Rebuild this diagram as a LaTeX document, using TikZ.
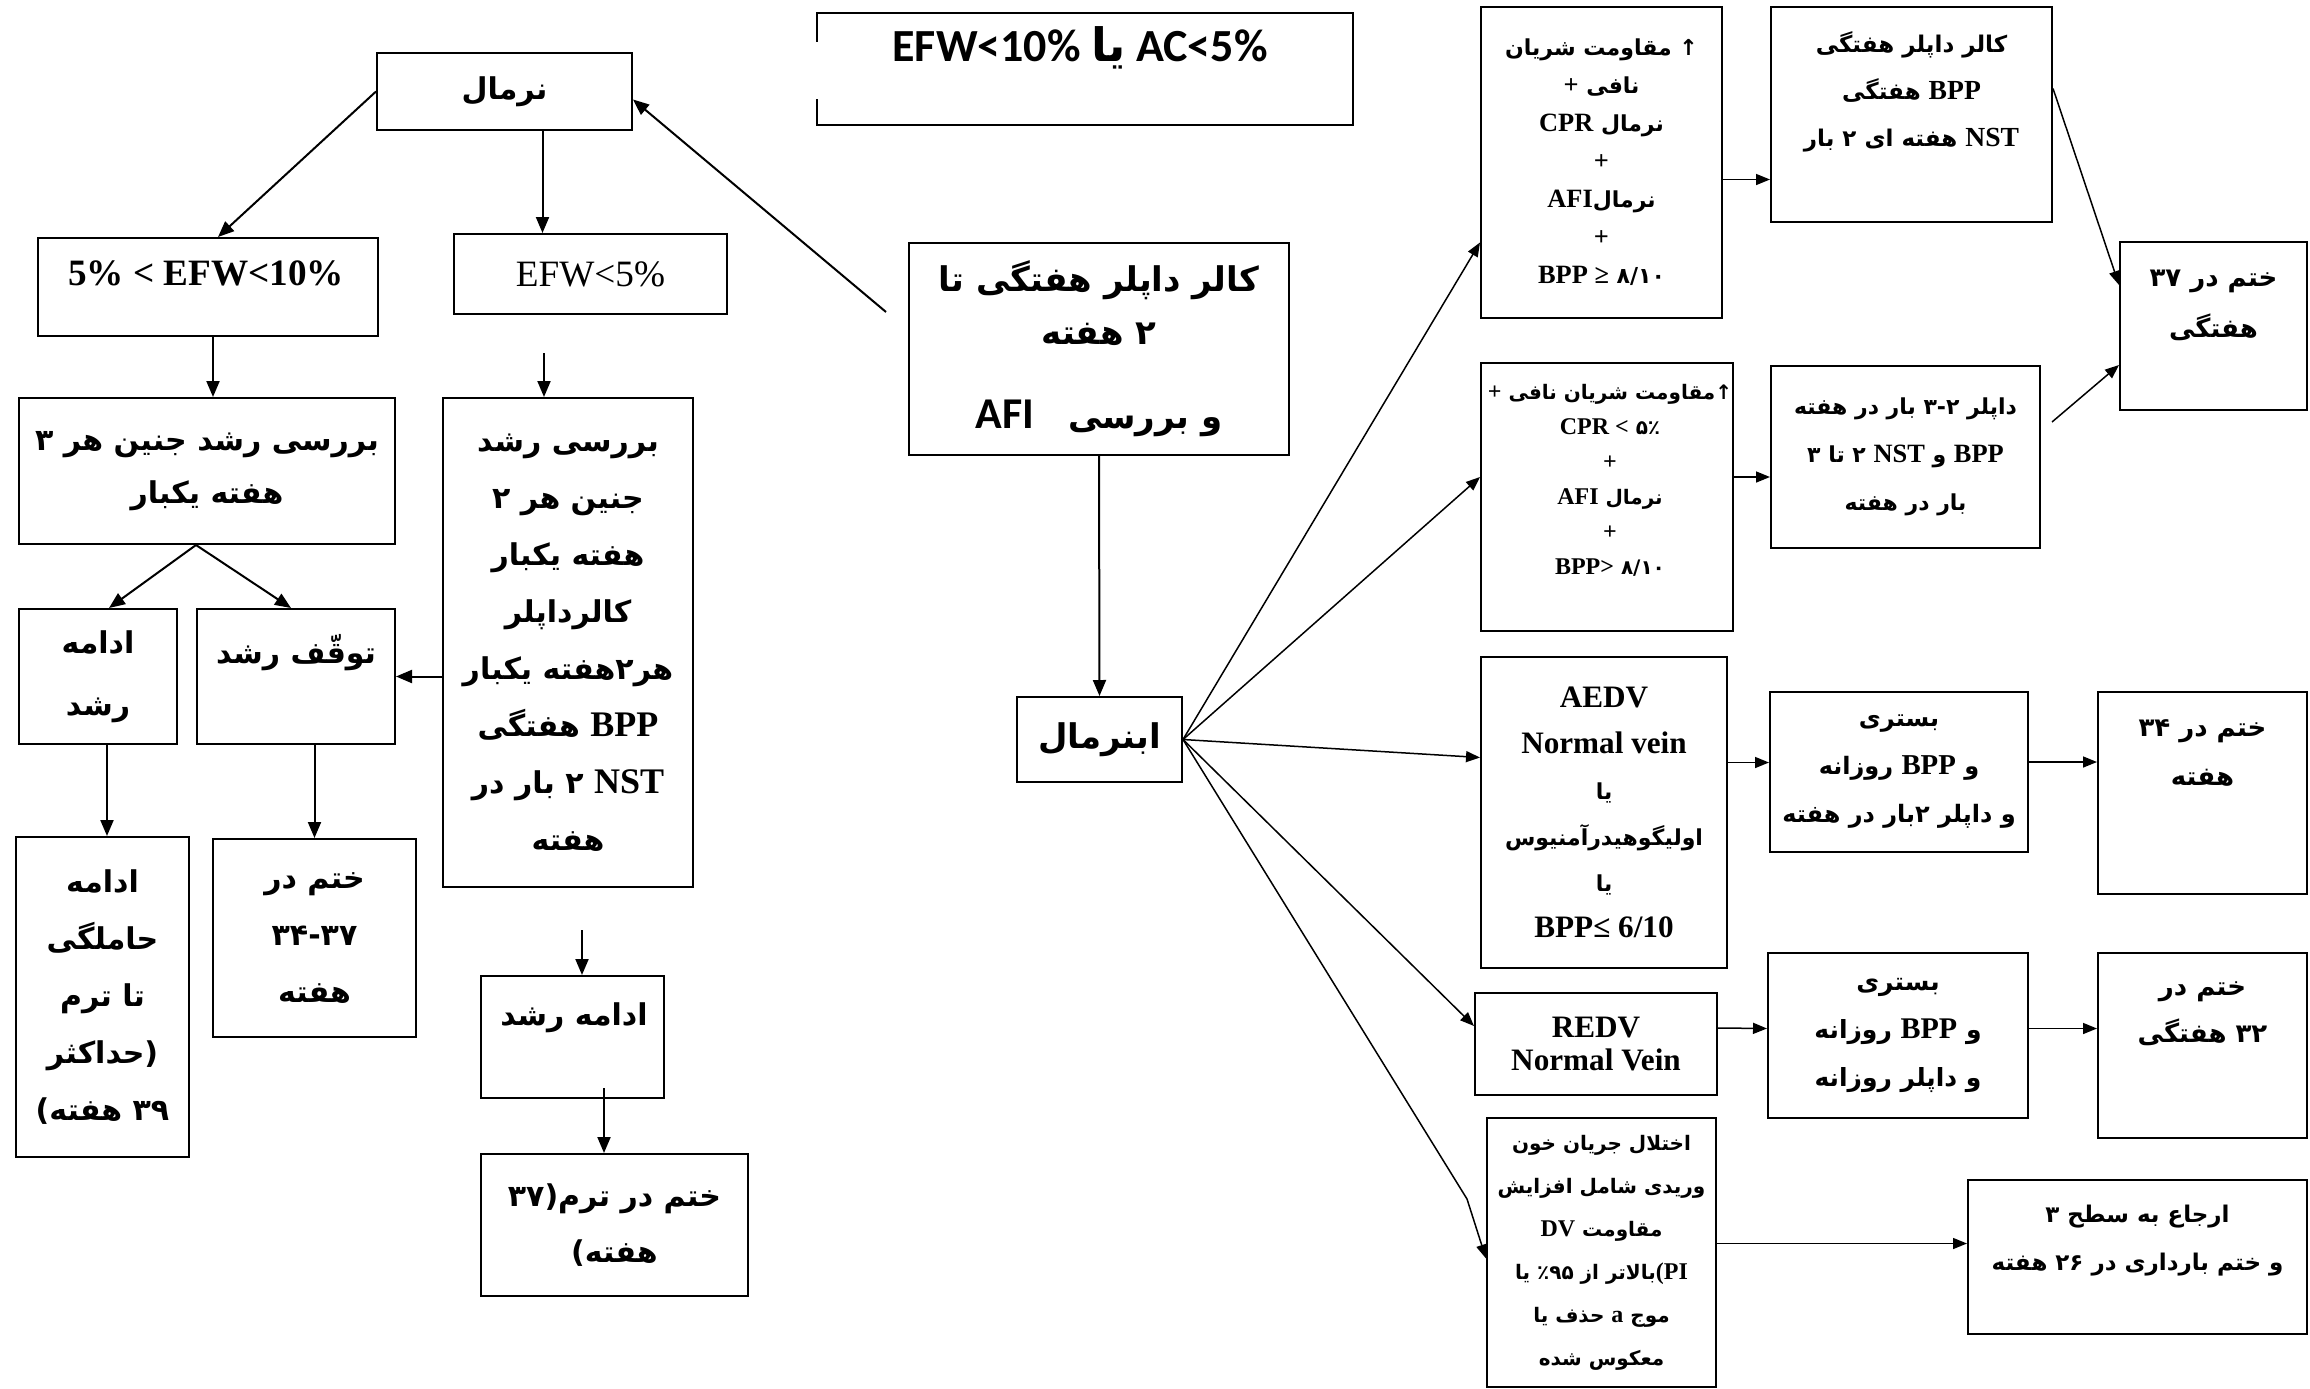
\documentclass[tikz,border=0pt]{standalone}
\usepackage{fontspec}
\setmainfont[Scale=1.2]{Liberation Serif}
\newfontfamily\fa[Script=Arabic]{DejaVu Sans}
\newfontfamily\calib{Carlito}
\TeXXeTstate=1
\usetikzlibrary{arrows.meta}
\newcommand{\rtl}[1]{\beginR #1\endR}
\newcommand{\ltn}[1]{{\rmfamily #1}}
\tikzset{
	box/.style={draw,line width=2pt,inner sep=0pt,align=center},
	txt/.style={inner sep=0pt,align=center},
	fs/.style 2 args={font=\fa\bfseries\fontsize{#1}{#2}\selectfont},
	arr/.style={line width=2pt,-{Triangle[length=16pt,width=13pt]}},
	rarr/.style={line width=1.5pt,-{Triangle[length=14pt,width=11pt]}}
}
\begin{document}
\begin{tikzpicture}[x=1pt,y=-1pt]
\useasboundingbox (0,0) rectangle (2310,1389);

% left branch
\node[box,fs={30}{57},minimum width=255pt,minimum height=77pt] (normal) at (504.5,91.5) {\rtl{نرمال}};
\node[box,minimum width=340pt,minimum height=98pt] (efwmid) at (208,287) {};
\node[txt,font=\bfseries\fontsize{31}{40}\selectfont] (efwmid-t) at (206,273) {5\% < EFW<10\%};
\node[box,font=\fontsize{31}{40}\selectfont,minimum width=273pt,minimum height=80pt] (efwlow) at (590.5,274) {EFW<5\%};
\node[box,fs={30}{53},minimum width=376pt,minimum height=146pt] (check3) at (207,471) {\rtl{بررسی رشد جنین هر ۳}\\\rtl{هفته یکبار}};
\node[box,fs={30}{57},minimum width=250pt,minimum height=489pt] (check2) at (568,642.5) {\rtl{بررسی رشد}\\\rtl{جنین هر ۲}\\\rtl{هفته یکبار}\\\rtl{کالرداپلر}\\\rtl{هر۲هفته یکبار}\\\rtl{\ltn{BPP} هفتگی}\\\rtl{\ltn{NST} ۲ بار در}\\\rtl{هفته}};
\node[box,fs={30}{62},minimum width=158pt,minimum height=135pt] (contg) at (98,676.5) {\rtl{ادامه}\\\rtl{رشد}};
\node[box,minimum width=198pt,minimum height=135pt] (stop) at (296,676.5) {};
\node[txt,fs={30}{57}] (stop-t) at (296,653) {\rtl{توقّف رشد}};
\node[box,fs={30}{57},minimum width=173pt,minimum height=320pt] (preg) at (102.5,997) {\rtl{ادامه}\\\rtl{حاملگی}\\\rtl{تا ترم}\\\rtl{(حداکثر}\\\rtl{۳۹ هفته)}};
\node[box,fs={30}{57},minimum width=203pt,minimum height=198pt] (end3437) at (314.5,938) {\rtl{ختم در}\\۳۴-۳۷\\\rtl{هفته}};
\node[box,minimum width=183pt,minimum height=122pt] (contg2) at (572.5,1037) {};
\node[txt,fs={30}{57}] (contg2-t) at (574,1018) {\rtl{ادامه رشد}};
\node[box,fs={30}{56},minimum width=267pt,minimum height=142pt] (endterm) at (614.5,1225) {\rtl{ختم در ترم(۳۷}\\\rtl{هفته)}};

\draw[arr] (normal.west) -- ([xshift=10pt]efwmid.north);
\draw[arr] ([xshift=38pt]normal.south) -- ([xshift=38pt]normal.south |- efwlow.north);
\draw[arr] ([xshift=5pt]efwmid.south) -- ([xshift=5pt]efwmid.south |- check3.north);
\coordinate (gap1) at (544,353);
\draw[arr] (gap1) -- (gap1 |- check2.north);
\draw[arr] ([xshift=-11pt]check3.south) -- ([xshift=11pt]contg.north);
\draw[arr] ([xshift=-11pt]check3.south) -- ([xshift=-5pt]stop.north);
\draw[arr] (check2.west |- stop.east) -- (stop.east);
\draw[arr] ([xshift=9pt]contg.south) -- ([xshift=9pt]contg.south |- preg.north);
\draw[arr] (end3437.north |- stop.south) -- (end3437.north);
\coordinate (gap2) at (582,930);
\draw[arr] (gap2) -- (gap2 |- contg2.north);
\coordinate (gap3) at (604,1088);
\draw[arr] (gap3) -- (gap3 |- endterm.north);

% middle
\node[minimum width=536pt,minimum height=112pt,inner sep=0pt] (topbox) at (1085,69) {};
\draw[line width=2pt] ([yshift=-29pt]topbox.north west) -- (topbox.north west) -- (topbox.north east) -- (topbox.south east) -- (topbox.south west) -- ([yshift=26pt]topbox.south west);
\node[txt,font=\calib\bfseries\fontsize{46}{50}\selectfont] (topbox-t) at (1080,48) {\rtl{AC<5\% {\fa یا} EFW<10\%}};
\node[box,fs={34}{53},minimum width=380pt,minimum height=212pt] (weekly) at (1099,349) {\rtl{کالر داپلر هفتگی تا}\\\rtl{۲ هفته}\\[31pt]\rtl{و بررسی\quad{\calib\fontsize{44}{53}\selectfont AFI}}};
\node[box,fs={34}{40},minimum width=165pt,minimum height=85pt] (abn) at (1099.5,739.5) {\rtl{ابنرمال}};

\coordinate (back) at (886,312);
\draw[arr] (back) -- ([yshift=-8pt]normal.east);
\draw[arr] (weekly.south) -- (abn.north);

% right branch
\node[box,fs={22}{38},minimum width=241pt,minimum height=311pt] (art1) at (1601.5,162.5) {\rtl{↑ مقاومت شریان}\\\rtl{نافی \ltn{+}}\\\rtl{نرمال \ltn{CPR}}\\\ltn{+}\\\rtl{نرمال\ltn{AFI}}\\\ltn{+}\\\ltn{BPP ≥} ۸/۱۰};
\node[box,minimum width=281pt,minimum height=215pt] (plan1) at (1911.5,114.5) {};
\node[txt,fs={23}{47}] (plan1-t) at (1911.5,92) {\rtl{کالر داپلر هفتگی}\\\rtl{\ltn{BPP} هفتگی}\\\rtl{\ltn{NST} هفته ای ۲ بار}};
\node[box,minimum width=187pt,minimum height=168pt] (end37) at (2213.5,326) {};
\node[txt,fs={26}{51}] (end37-t) at (2213.5,305.5) {\rtl{ختم در ۳۷}\\\rtl{هفتگی}};
\node[box,minimum width=252pt,minimum height=268pt] (art2) at (1607,497) {};
\node[txt,fs={20}{35}] (art2-t) at (1610,480) {\rtl{↑مقاومت شریان نافی \ltn{+}}\\\ltn{CPR <} ۵٪\\\ltn{+}\\\rtl{نرمال \ltn{AFI}}\\\ltn{+}\\\ltn{BPP>} ۸/۱۰};
\node[box,fs={22}{48},minimum width=269pt,minimum height=182pt] (plan2) at (1905.5,457) {\rtl{داپلر ۳-۲ بار در هفته}\\\rtl{\ltn{BPP} و \ltn{NST} ۲ تا ۳}\\\rtl{بار در هفته}};
\node[box,fs={26}{46},minimum width=246pt,minimum height=311pt] (aedv) at (1604,812.5) {\ltn{AEDV}\\\ltn{Normal vein}\\{\fontsize{22}{46}\selectfont\rtl{یا}}\\{\fontsize{22}{46}\selectfont\rtl{اولیگوهیدرآمنیوس}}\\{\fontsize{22}{46}\selectfont\rtl{یا}}\\\ltn{BPP≤ 6/10}};
\node[box,fs={24}{48},minimum width=258pt,minimum height=160pt] (plan3) at (1899,772) {\rtl{بستری}\\\rtl{و \ltn{BPP} روزانه}\\\rtl{و داپلر ۲بار در هفته}};
\node[box,minimum width=209pt,minimum height=202pt] (end34) at (2202.5,793) {};
\node[txt,fs={26}{49}] (end34-t) at (2202.5,752.5) {\rtl{ختم در ۳۴}\\\rtl{هفته}};
\node[box,fs={26}{33},minimum width=242pt,minimum height=102pt] (redv) at (1596,1044) {\ltn{REDV}\\\ltn{Normal Vein}};
\node[box,fs={25}{48},minimum width=260pt,minimum height=165pt] (plan4) at (1898,1035.5) {\rtl{بستری}\\\rtl{و \ltn{BPP} روزانه}\\\rtl{و داپلر روزانه}};
\node[box,minimum width=209pt,minimum height=185pt] (end32) at (2202.5,1045.5) {};
\node[txt,fs={26}{47}] (end32-t) at (2202.5,1013.5) {\rtl{ختم در}\\\rtl{۳۲ هفتگی}};
\node[box,fs={20}{43},minimum width=229pt,minimum height=269pt] (dv) at (1601.5,1252.5) {\rtl{اختلال جریان خون}\\\rtl{وریدی شامل افزایش}\\\rtl{مقاومت \ltn{DV}}\\\rtl{\ltn{(PI}بالاتر از ٪۹۵ یا}\\\rtl{موج \ltn{a} حذف یا}\\\rtl{معکوس شده}};
\node[box,minimum width=339pt,minimum height=154pt] (refer) at (2137.5,1257) {};
\node[txt,fs={23}{48}] (refer-t) at (2137.5,1241) {\rtl{ارجاع به سطح ۳}\\\rtl{و ختم بارداری در ۲۶ هفته}};

\draw[rarr] (abn.east) -- ([yshift=-80pt]art1.west);
\draw[rarr] (abn.east) -- ([yshift=20pt]art2.west);
\draw[rarr] (abn.east) -- ([yshift=55pt]aedv.west);
\draw[rarr] (abn.east) -- ([yshift=18pt]redv.west);
\coordinate (bend) at (1467,1199);
\draw[rarr] (abn.east) -- (bend) -- ([yshift=-6pt]dv.west);
\draw[rarr] ([yshift=-17pt]art1.east) -- ([yshift=-17pt]art1.east -| plan1.west);
\draw[rarr] ([yshift=26pt]plan1.east) -- ([yshift=41pt]end37.west);
\draw[rarr] ([yshift=20pt]art2.east) -- ([yshift=20pt]art2.east -| plan2.west);
\coordinate (up2) at (2052,422);
\draw[rarr] (up2) -- ([yshift=-39pt]end37.west);
\draw[rarr] ([yshift=50pt]aedv.east) -- ([yshift=50pt]aedv.east -| plan3.west);
\draw[rarr] ([yshift=10pt]plan3.east) -- ([yshift=10pt]plan3.east -| end34.west);
\draw[rarr] ([yshift=16pt]redv.east) -- ([yshift=7pt]plan4.west);
\draw[rarr] ([yshift=7pt]plan4.east) -- ([yshift=7pt]plan4.east -| end32.west);
\draw[rarr] ([yshift=9pt]dv.east) -- ([yshift=9pt]dv.east -| refer.west);
\end{tikzpicture}
\end{document}
